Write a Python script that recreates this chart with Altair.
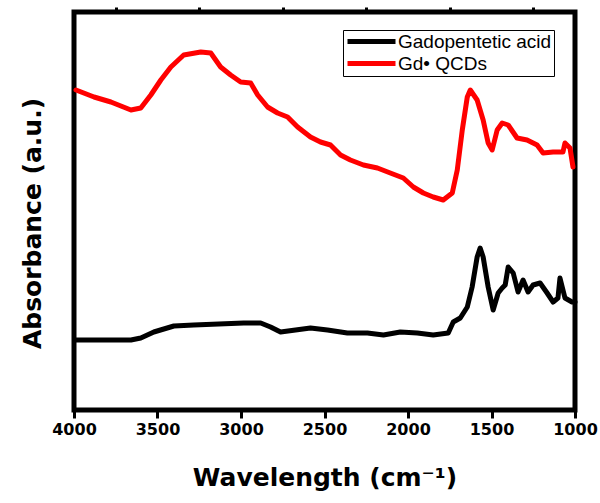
import altair as alt
import pandas as pd

# Gd-QCDs (red) spectrum: wavenumber (cm-1) and absorbance (a.u.)
red_wn = [3988, 3880, 3779, 3659, 3600, 3540, 3480, 3420, 3343, 3241, 3181, 3122,
          3062, 3002, 2942, 2900, 2841, 2781, 2721, 2661, 2584, 2524, 2464, 2404,
          2345, 2267, 2183, 2106, 2028, 1968, 1908, 1849, 1789, 1735, 1705, 1675,
          1645, 1627, 1586, 1550, 1520, 1496, 1466, 1436, 1400, 1347, 1287, 1227,
          1191, 1131, 1072, 1060, 1030, 1012]
red_abs = [3.20, 3.13, 3.08, 3.00, 3.02, 3.15, 3.30, 3.43, 3.55, 3.58, 3.57, 3.43,
           3.35, 3.28, 3.27, 3.15, 3.03, 2.97, 2.93, 2.83, 2.73, 2.68, 2.65, 2.55,
           2.50, 2.45, 2.42, 2.37, 2.32, 2.23, 2.17, 2.13, 2.10, 2.17, 2.40, 2.80,
           3.13, 3.20, 3.10, 2.90, 2.67, 2.60, 2.80, 2.87, 2.85, 2.72, 2.70, 2.65,
           2.57, 2.58, 2.58, 2.67, 2.62, 2.43]

# Gadopentetic acid (black) spectrum
blk_wn = [3995, 3659, 3600, 3522, 3402, 3283, 2984, 2882, 2823, 2763, 2584, 2482,
          2363, 2243, 2147, 2046, 1944, 1849, 1759, 1729, 1687, 1645, 1616, 1586,
          1568, 1550, 1520, 1490, 1460, 1436, 1418, 1400, 1370, 1341, 1311, 1281,
          1251, 1209, 1167, 1131, 1102, 1090, 1060, 1018, 1000]
blk_abs = [0.70, 0.70, 0.72, 0.78, 0.84, 0.85, 0.87, 0.87, 0.83, 0.78, 0.82, 0.80,
           0.77, 0.77, 0.75, 0.78, 0.77, 0.75, 0.77, 0.88, 0.92, 1.03, 1.23, 1.53,
           1.62, 1.53, 1.23, 1.00, 1.17, 1.22, 1.25, 1.43, 1.37, 1.18, 1.30, 1.18,
           1.25, 1.27, 1.17, 1.08, 1.12, 1.32, 1.12, 1.08, 1.08]

series_names = ["Gadopentetic acid", "Gd\u2022 QCDs"]
series_colors = ["#000000", "#ff0000"]
major_ticks = [4000, 3500, 3000, 2500, 2000, 1500, 1000]
minor_ticks = [3750, 3250, 2750, 2250, 1750, 1250]

df = pd.concat([
    pd.DataFrame({"wn": blk_wn, "abs": blk_abs, "series": series_names[0], "order": range(len(blk_wn))}),
    pd.DataFrame({"wn": red_wn, "abs": red_abs, "series": series_names[1], "order": range(len(red_wn))}),
])

xscale = alt.Scale(domain=[1000, 4000], reverse=True, nice=False, zero=False)
yscale = alt.Scale(domain=[0, 3.98], nice=False, zero=False)

yaxis = alt.Axis(labels=False, ticks=False, domain=False, grid=False,
                 title="Absorbance (a.u.)", titleFont="DejaVu Sans", titleFontWeight="bold",
                 titleFontSize=25, titleColor="black", titleX=-29, titleY=211,
                 titleAngle=-90, titleAlign="center", titleBaseline="bottom")

lines = alt.Chart(df).mark_line(strokeWidth=5, strokeCap="round", strokeJoin="round").encode(
    x=alt.X("wn:Q", scale=xscale,
            axis=alt.Axis(values=major_ticks, format="d", tickSize=8, tickWidth=3, tickColor="black",
                          domain=False, grid=False, labelFont="DejaVu Sans", labelFontWeight="bold",
                          labelFontSize=16, labelColor="black", labelPadding=3, labelFlush=False,
                          title="Wavelength (cm\u207b\u00b9)", titleFont="DejaVu Sans",
                          titleFontWeight="bold", titleFontSize=25, titleColor="black",
                          titlePadding=28)),
    y=alt.Y("abs:Q", scale=yscale, axis=yaxis),
    color=alt.Color("series:N", sort=series_names,
                    scale=alt.Scale(domain=series_names, range=series_colors),
                    legend=alt.Legend(title=None, orient="none", legendX=269, legendY=18,
                                      symbolType="stroke", symbolSize=2304, symbolStrokeWidth=5,
                                      labelFont="Liberation Sans", labelFontSize=19, labelColor="black",
                                      labelOffset=0, padding=2, rowPadding=2, clipHeight=19,
                                      strokeColor="black")),
    detail="series:N",
    order="order:Q",
)

minor = alt.Chart(df).mark_point(opacity=0).encode(
    x=alt.X("wn:Q", scale=xscale,
            axis=alt.Axis(values=minor_ticks, tickSize=5, tickWidth=3, tickColor="black",
                          labels=False, domain=False, grid=False, title=None)),
    y=alt.Y("abs:Q", scale=yscale, axis=yaxis),
)

chart = alt.layer(lines, minor).resolve_axis(x="independent").properties(
    width=501, height=398,
    padding={"left": 74, "top": 12, "right": 25, "bottom": 93},
    autosize=alt.AutoSizeParams(type="none"),
    background="white",
).configure_view(stroke="black", strokeWidth=5)

chart.save("out.html", embed_options={"renderer": "svg", "actions": False})
